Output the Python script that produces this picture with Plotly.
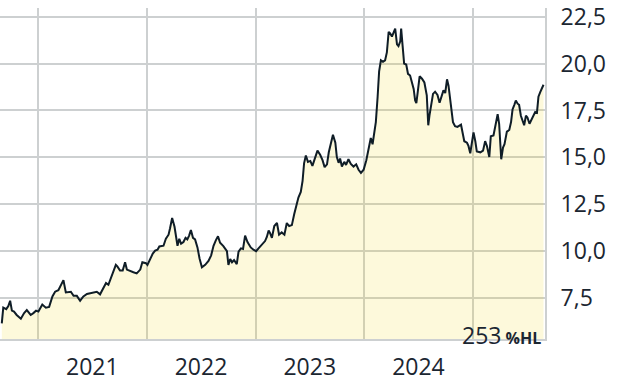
import plotly.graph_objects as go

# ---- data ----
dates_2020 = ["2020-09-01", "2020-09-06", "2020-09-16", "2020-09-23", "2020-09-29", "2020-10-05", "2020-10-12",
              "2020-10-21", "2020-11-04", "2020-11-15", "2020-11-24", "2020-12-07", "2020-12-16", "2020-12-25"]
values_2020 = [6.15, 6.99, 6.91, 7.08, 7.36, 6.83, 6.78, 6.60, 6.40, 6.70, 6.86, 6.60, 6.70, 6.83]

dates_2021 = ["2021-01-02", "2021-01-15", "2021-01-27", "2021-02-07", "2021-02-18", "2021-02-27", "2021-03-10",
              "2021-03-19", "2021-03-27", "2021-04-04", "2021-04-13", "2021-04-21", "2021-04-30", "2021-05-11",
              "2021-05-22", "2021-06-02", "2021-06-14", "2021-06-25", "2021-07-06", "2021-07-17", "2021-07-28",
              "2021-08-08", "2021-08-17", "2021-08-25", "2021-09-03", "2021-09-11", "2021-09-19", "2021-09-24",
              "2021-10-03", "2021-10-12", "2021-10-20", "2021-10-26", "2021-11-06", "2021-11-17", "2021-11-28",
              "2021-12-10", "2021-12-17", "2021-12-29"]
values_2021 = [6.78, 7.16, 6.99, 7.03, 7.59, 7.84, 7.92, 8.17, 8.46, 7.80, 7.80, 7.84, 7.62, 7.62, 7.36, 7.59,
               7.72, 7.75, 7.80, 7.84, 7.70, 8.06, 8.30, 8.21, 8.60, 9.02, 9.27, 9.19, 8.97, 8.97, 9.41, 9.02,
               8.93, 8.88, 8.82, 9.02, 9.41, 9.36]

dates_2022 = ["2022-01-03", "2022-01-12", "2022-01-21", "2022-01-29", "2022-02-06", "2022-02-12", "2022-02-26",
              "2022-03-06", "2022-03-15", "2022-03-20", "2022-03-27", "2022-04-04", "2022-04-09", "2022-04-14",
              "2022-04-20", "2022-04-26", "2022-05-04", "2022-05-11", "2022-05-17", "2022-05-23", "2022-05-29",
              "2022-06-05", "2022-06-12", "2022-06-20", "2022-06-27", "2022-07-05", "2022-07-16", "2022-07-27",
              "2022-08-05", "2022-08-13", "2022-08-21", "2022-08-28", "2022-09-04", "2022-09-15", "2022-09-27",
              "2022-10-02", "2022-10-08", "2022-10-14", "2022-10-21", "2022-10-30", "2022-11-05", "2022-11-13",
              "2022-11-20", "2022-11-27", "2022-12-05", "2022-12-16", "2022-12-25"]
values_2022 = [9.27, 9.61, 9.87, 10.03, 10.08, 10.25, 10.29, 10.66, 10.88, 11.22, 11.77, 11.30, 10.79, 10.29,
               10.66, 10.40, 10.49, 10.71, 10.63, 10.83, 11.13, 10.71, 10.63, 10.20, 9.61, 9.14, 9.27, 9.48,
               9.78, 10.29, 10.59, 10.79, 10.45, 10.27, 10.00, 9.27, 9.58, 9.41, 9.53, 9.31, 9.98, 10.15,
               10.12, 10.83, 10.49, 10.20, 10.08]

dates_2023 = ["2023-01-03", "2023-01-11", "2023-01-22", "2023-02-02", "2023-02-08", "2023-02-14", "2023-02-19",
              "2023-02-25", "2023-03-05", "2023-03-14", "2023-03-21", "2023-03-30", "2023-04-08", "2023-04-16",
              "2023-04-24", "2023-05-03", "2023-05-11", "2023-05-18", "2023-05-25", "2023-06-02", "2023-06-08",
              "2023-06-13", "2023-06-19", "2023-06-26", "2023-07-04", "2023-07-11", "2023-07-20", "2023-07-28",
              "2023-08-06", "2023-08-14", "2023-08-21", "2023-08-29", "2023-09-04", "2023-09-11", "2023-09-18",
              "2023-09-26", "2023-10-01", "2023-10-07", "2023-10-12", "2023-10-18", "2023-10-26", "2023-11-01",
              "2023-11-09", "2023-11-17", "2023-11-26", "2023-12-05", "2023-12-13", "2023-12-21", "2023-12-30"]
values_2023 = [10.00, 10.15, 10.37, 10.54, 10.76, 11.10, 10.96, 10.71, 11.34, 11.50, 10.88, 11.00, 10.88, 11.50,
               11.34, 11.39, 11.98, 12.40, 12.86, 13.16, 13.75, 14.68, 15.10, 14.76, 14.81, 14.55, 15.02, 15.36,
               15.14, 14.85, 14.48, 14.63, 15.27, 15.70, 16.20, 15.78, 15.02, 14.71, 14.94, 14.51, 14.76, 14.60,
               14.90, 14.65, 14.51, 14.63, 14.34, 14.17, 14.34]

dates_2024 = ["2024-01-08", "2024-01-13", "2024-01-19", "2024-01-23", "2024-01-29", "2024-02-03", "2024-02-09",
              "2024-02-15", "2024-02-20", "2024-02-26", "2024-03-04", "2024-03-11", "2024-03-17", "2024-03-23",
              "2024-03-28", "2024-04-03", "2024-04-08", "2024-04-14", "2024-04-20", "2024-04-25", "2024-05-01",
              "2024-05-04", "2024-05-09", "2024-05-14", "2024-05-21", "2024-05-27", "2024-06-03", "2024-06-09",
              "2024-06-15", "2024-06-20", "2024-06-24", "2024-06-28", "2024-07-05", "2024-07-13", "2024-07-21",
              "2024-07-29", "2024-08-03", "2024-08-07", "2024-08-12", "2024-08-19", "2024-08-26", "2024-09-03",
              "2024-09-10", "2024-09-18", "2024-09-23", "2024-09-29", "2024-10-05", "2024-10-10", "2024-10-16",
              "2024-10-21", "2024-10-25", "2024-11-01", "2024-11-09", "2024-11-21", "2024-11-26", "2024-12-02",
              "2024-12-11", "2024-12-16", "2024-12-22", "2024-12-28"]
values_2024 = [14.85, 15.27, 15.78, 16.03, 15.70, 16.28, 16.88, 18.23, 19.58, 20.17, 20.09, 20.17, 20.59, 21.69,
               21.61, 21.44, 21.61, 21.86, 21.02, 20.93, 21.18, 21.86, 20.93, 20.00, 19.95, 19.45, 19.36, 18.99,
               18.65, 18.03, 17.89, 18.40, 19.32, 19.19, 18.99, 18.31, 16.71, 17.22, 17.80, 18.38, 18.50, 18.33,
               17.91, 18.40, 18.57, 18.43, 19.16, 18.82, 18.14, 17.38, 16.88, 16.66, 16.62, 16.74, 16.37, 15.86,
               15.78, 15.61, 15.22, 15.78]

dates_2025 = ["2025-01-02", "2025-01-08", "2025-01-13", "2025-01-25", "2025-02-03", "2025-02-10", "2025-02-16",
              "2025-02-24", "2025-03-01", "2025-03-10", "2025-03-16", "2025-03-24", "2025-03-29", "2025-04-05",
              "2025-04-11", "2025-04-16", "2025-04-24", "2025-05-02", "2025-05-08", "2025-05-13", "2025-05-19",
              "2025-05-24", "2025-05-30", "2025-06-04", "2025-06-10", "2025-06-16", "2025-06-21", "2025-06-27",
              "2025-07-02", "2025-07-09", "2025-07-17", "2025-07-23", "2025-07-28", "2025-08-03", "2025-08-08",
              "2025-08-14", "2025-08-20", "2025-08-25"]
values_2025 = [16.33, 15.86, 15.32, 15.27, 15.36, 15.86, 15.61, 15.02, 16.12, 16.17, 16.62, 17.30, 16.79, 14.90,
               15.52, 15.70, 16.37, 16.46, 16.88, 17.55, 17.80, 18.03, 17.86, 17.80, 17.22, 16.91, 16.71, 17.22,
               17.13, 16.79, 17.04, 17.30, 17.42, 17.38, 18.23, 18.48, 18.65, 18.87]

year_label_dates = ["2021-07-02", "2022-07-02", "2023-07-02", "2024-07-01"]
year_labels = ["2021", "2022", "2023", "2024"]
y_ticks = [7.5, 10.0, 12.5, 15.0, 17.5, 20.0, 22.5]
perf_value = "253"
perf_unit = "%HL"

dates = dates_2020 + dates_2021 + dates_2022 + dates_2023 + dates_2024 + dates_2025
values = values_2020 + values_2021 + values_2022 + values_2023 + values_2024 + values_2025

# ---- styles ----
TEXT = "#1b2631"
GRID = "#cdd0d1"
FONT = "Open Sans"

fig = go.Figure()
fig.add_trace(go.Scatter(
    x=dates, y=values, mode="lines",
    line=dict(color="#0f1d27", width=2),
    fill="tozeroy", fillcolor="rgba(240,210,0,0.14)",
    hoverinfo="skip", showlegend=False,
))

fig.update_layout(
    width=640, height=382,
    margin=dict(l=0, r=95, t=0, b=34),
    paper_bgcolor="white", plot_bgcolor="white",
    separators=",.",
    font=dict(family=FONT, color=TEXT, size=23),
    showlegend=False,
    xaxis=dict(
        type="date",
        range=["2020-08-26", "2025-08-30"],
        tickmode="array", tickvals=year_label_dates, ticktext=year_labels,
        showgrid=False,
        minor=dict(tick0="2021-01-01", dtick="M12", showgrid=True,
                   gridcolor=GRID, gridwidth=2, ticks=""),
        ticks="outside", ticklen=6, tickcolor="rgba(0,0,0,0)",
        tickfont=dict(family=FONT, size=23, color=TEXT),
        showline=True, linecolor=GRID, linewidth=2,
        zeroline=False, fixedrange=True,
    ),
    yaxis=dict(
        side="right",
        range=[5.32, 22.96],
        tickmode="array", tickvals=y_ticks, tickformat=".1f",
        ticklabeloverflow="allow",
        showgrid=True, gridcolor=GRID, gridwidth=2,
        ticks="outside", ticklen=9, tickcolor="rgba(0,0,0,0)",
        tickfont=dict(family=FONT, size=23, color=TEXT),
        showline=True, linecolor=GRID, linewidth=2,
        zeroline=False, fixedrange=True,
    ),
)

fig.add_annotation(
    xref="paper", yref="paper", x=1, y=0,
    xanchor="right", yanchor="bottom", xshift=-2, yshift=-14,
    showarrow=False,
    text=perf_value + "<b><span style='font-size:16px'> " + perf_unit + "</span></b>",
    font=dict(family=FONT, size=23, color=TEXT),
)

fig.write_html("out.html")
